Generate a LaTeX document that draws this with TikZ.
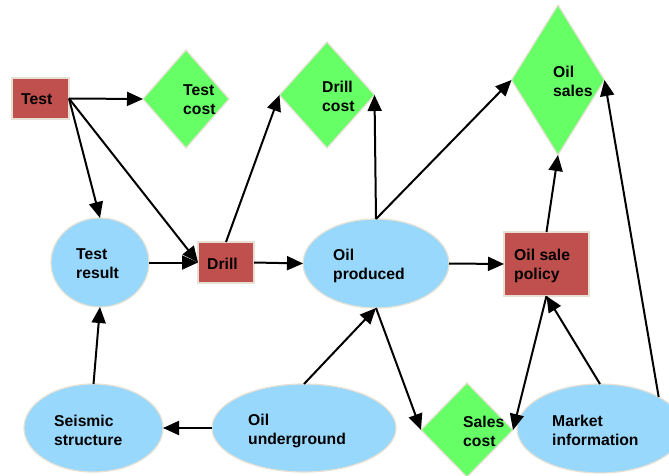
\documentclass[tikz,border=0pt]{standalone}
\usepackage{fontspec}
\setmainfont{Liberation Sans}
\usetikzlibrary{shapes.geometric,arrows.meta}
\definecolor{redbox}{HTML}{C0504D}
\definecolor{greenbox}{HTML}{66FF66}
\definecolor{bluebox}{HTML}{99D8FD}
\definecolor{rimcol}{HTML}{E6E1D3}
\tikzset{
  shapebase/.style={draw=rimcol,line width=1.2pt,inner sep=0pt,outer sep=0pt},
  decisionbox/.style={shapebase,rectangle,fill=redbox,minimum width=#1},
  valuebox/.style={shapebase,diamond,fill=greenbox},
  chancebox/.style={shapebase,ellipse,fill=bluebox},
  lbl/.style={anchor=west,align=left,inner sep=0pt,font=\fontsize{15.7}{19}\selectfont\bfseries},
  conn/.style={line width=2pt,-{Triangle[length=16pt,width=14pt]}}
}
\begin{document}
\begin{tikzpicture}[x=1pt,y=-1pt]
\useasboundingbox (0,0) rectangle (669,476);
% shapes
\node[decisionbox=57pt,minimum height=41pt] (test) at (40.5,98.5) {};
\node[valuebox,minimum width=86pt,minimum height=98pt] (tcost) at (186,99) {};
\node[valuebox,minimum width=95pt,minimum height=106pt] (dcost) at (327,95) {};
\node[valuebox,minimum width=93pt,minimum height=150pt] (osales) at (558,80) {};
\node[chancebox,minimum width=98pt,minimum height=89pt] (tres) at (100,262.5) {};
\node[decisionbox=56pt,minimum height=41pt] (drill) at (226,262.5) {};
\node[chancebox,minimum width=146pt,minimum height=89pt] (oilp) at (376,263.5) {};
\node[decisionbox=85pt,minimum height=64pt] (policy) at (546.5,264) {};
\node[chancebox,minimum width=139pt,minimum height=88pt] (seis) at (93.5,428) {};
\node[chancebox,minimum width=184pt,minimum height=88pt] (under) at (304,428) {};
\node[valuebox,minimum width=92pt,minimum height=94pt] (scost) at (467,430) {};
\node[chancebox,minimum width=166pt,minimum height=89pt] (market) at (600,428.5) {};
% labels
\node[lbl] (testT) at (21,99.5) {Test};
\node[lbl] (tcostT) at (183,100) {Test\\cost};
\node[lbl] (dcostT) at (322,96) {Drill\\cost};
\node[lbl] (osalesT) at (553,81.5) {Oil\\sales};
\node[lbl] (tresT) at (76,264) {Test\\result};
\node[lbl] (drillT) at (207,263.5) {Drill};
\node[lbl] (oilpT) at (333,265.5) {Oil\\produced};
\node[lbl] (policyT) at (514,265.5) {Oil sale\\policy};
\node[lbl] (seisT) at (54,430) {Seismic\\structure};
\node[lbl] (underT) at (248,431) {Oil\\underground};
\node[lbl] (scostT) at (463,431.5) {Sales\\cost};
\node[lbl] (marketT) at (552,430) {Market\\information};
% connectors
\draw[conn] (test.east) -- (tcost.west);
\draw[conn] (test.east) -- (tres.north);
\draw[conn] (test.east) -- (drill.west);
\draw[conn] (tres.east) -- (drill.west);
\draw[conn] (drill.east) -- (oilp.west);
\draw[conn] (drill.north) -- (dcost.west);
\draw[conn] (oilp.north) -- (dcost.east);
\draw[conn] (oilp.north) -- (osales.west);
\draw[conn] (oilp.east) -- (policy.west);
\draw[conn] (policy.north) -- (osales.south);
\draw[conn] (market.north east) -- (osales.east);
\draw[conn] (market.north) -- (policy.south);
\draw[conn] (policy.south) -- (scost.east);
\draw[conn] (oilp.south) -- (scost.west);
\draw[conn] (under.north) -- (oilp.south);
\draw[conn] (under.west) -- (seis.east);
\draw[conn] (seis.north) -- (tres.south);
\end{tikzpicture}
\end{document}
